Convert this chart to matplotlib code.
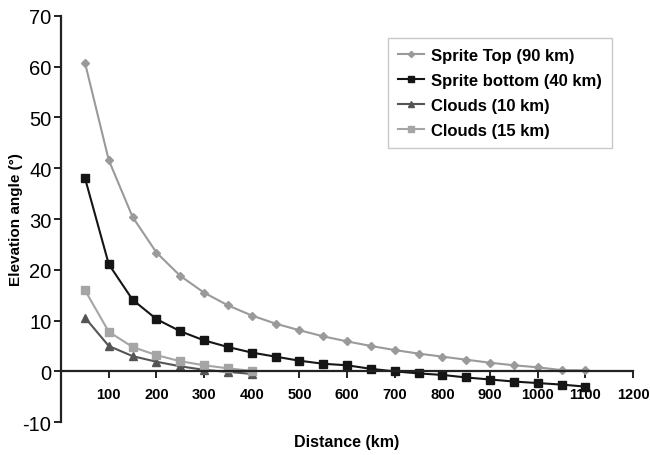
import matplotlib
matplotlib.use('Agg')
import matplotlib.pyplot as plt

plt.rcParams['font.family'] = ['Liberation Sans', 'DejaVu Sans']
plt.rcParams['axes.unicode_minus'] = False

# Distances (km) and elevation angles (deg)
dist_long = [50, 100, 150, 200, 250, 300, 350, 400, 450, 500, 550,
             600, 650, 700, 750, 800, 850, 900, 950, 1000, 1050, 1100]
dist_short = [50, 100, 150, 200, 250, 300, 350, 400]

sprite_top = [60.8, 41.6, 30.4, 23.4, 18.8, 15.5, 13.0, 11.0, 9.4, 8.1, 6.9,
              5.9, 5.0, 4.2, 3.5, 2.9, 2.3, 1.7, 1.2, 0.8, 0.25, 0.2]
sprite_bottom = [38.1, 21.1, 14.1, 10.3, 7.9, 6.1, 4.8, 3.7, 2.9, 2.1, 1.5,
                 1.2, 0.5, 0.0, -0.4, -0.7, -1.2, -1.6, -2.0, -2.3, -2.6, -3.0]
clouds_10 = [10.6, 5.0, 3.0, 1.9, 1.0, 0.3, -0.1, -0.5]
clouds_15 = [16.0, 7.8, 4.8, 3.2, 2.0, 1.2, 0.6, 0.1]

x_ticks = [100, 200, 300, 400, 500, 600, 700, 800, 900, 1000, 1100, 1200]
y_ticks = [-10, 0, 10, 20, 30, 40, 50, 60, 70]

fig = plt.figure(figsize=(6.5, 4.56), dpi=100)
ax = fig.add_axes([0.094, 0.072, 0.88, 0.891])

ax.plot(dist_long, sprite_top, color='#9a9a9a', marker='D', markersize=4.5,
        linewidth=1.5, label='Sprite Top (90 km)')
ax.plot(dist_long, sprite_bottom, color='#151515', marker='s', markersize=5.5,
        linewidth=1.5, label='Sprite bottom (40 km)')
ax.plot(dist_short, clouds_10, color='#555555', marker='^', markersize=6,
        linewidth=1.5, label='Clouds (10 km)')
ax.plot(dist_short, clouds_15, color='#a5a5a5', marker='s', markersize=5.5,
        linewidth=1.5, label='Clouds (15 km)')

ax.set_xlim(0, 1200)
ax.set_ylim(-10, 70)
ax.set_xticks(x_ticks)
ax.set_yticks(y_ticks)

ax.spines['top'].set_visible(False)
ax.spines['right'].set_visible(False)
ax.spines['bottom'].set_position(('data', 0))
for s in ('left', 'bottom'):
    ax.spines[s].set_linewidth(1.6)
    ax.spines[s].set_color('#222222')

ax.tick_params(axis='x', direction='out', length=5, width=1.4,
               labelsize=10.5, pad=6, color='#222222')
ax.tick_params(axis='y', direction='out', length=5, width=1.4,
               labelsize=14.5, pad=2, color='#222222')
for lbl in ax.get_xticklabels():
    lbl.set_fontweight('bold')

ax.set_xlabel('Distance (km)', fontsize=11.5, fontweight='bold', labelpad=0)
ax.xaxis.set_label_coords(0.5, -0.03)
ax.set_ylabel('Elevation angle (°)', fontsize=11, fontweight='bold')
ax.yaxis.set_label_coords(-0.066, 0.5)

leg = ax.legend(loc='upper right', bbox_to_anchor=(0.963, 0.946),
                borderaxespad=0, prop={'weight': 'bold', 'size': 12},
                frameon=True, fancybox=False, handlelength=1.6,
                handletextpad=0.4, labelspacing=0.6, borderpad=0.6,
                markerscale=0.7)
leg.get_frame().set_edgecolor('#bbbbbb')
leg.get_frame().set_linewidth(1.0)

fig.savefig('out.png', dpi=100)
